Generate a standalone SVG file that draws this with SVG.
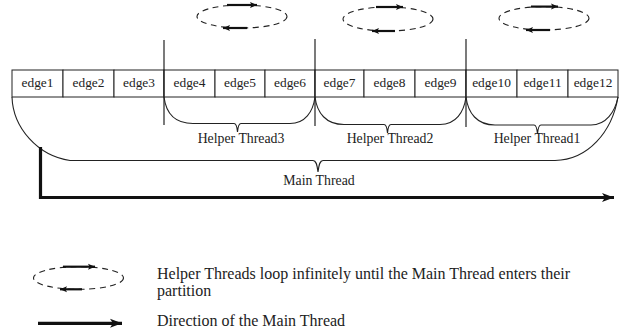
<svg xmlns="http://www.w3.org/2000/svg" width="620" height="331" viewBox="0 0 620 331">
<defs>
<style>
.cell{fill:#fff;stroke:#222;stroke-width:1}
.t{font-family:"Liberation Serif","Times New Roman",serif;fill:#222;text-anchor:middle}
.ct{font-size:13.4px}
.lt{font-size:13.8px}
.leg{font-family:"Liberation Serif","Times New Roman",serif;fill:#222;font-size:16px}
.br{fill:none;stroke:#222;stroke-width:1.1}
.sep{fill:none;stroke:#222;stroke-width:1.2}
.loop{fill:none;stroke:#222;stroke-width:1.1;stroke-dasharray:6 4.5}
.la{fill:none;stroke:#111;stroke-width:2.2}
.main{fill:none;stroke:#111;stroke-width:3.2}
</style>
<marker id="sa" markerUnits="userSpaceOnUse" markerWidth="8" markerHeight="8" refX="7" refY="4" orient="auto"><path d="M0,1 L7,4 L0,7 L1.5,4 z" fill="#111"/></marker>
<marker id="ba" markerUnits="userSpaceOnUse" markerWidth="13" markerHeight="11" refX="12" refY="5.5" orient="auto"><path d="M0,1 L12,5.5 L0,10 L3,5.5 z" fill="#111"/></marker>
</defs>

<g id="edge1"><rect class="cell" x="12" y="70" width="51" height="27"/><text class="t ct" x="37.5" y="87">edge1</text></g>
<g id="edge2"><rect class="cell" x="63" y="70" width="51" height="27"/><text class="t ct" x="88.5" y="87">edge2</text></g>
<g id="edge3"><rect class="cell" x="114" y="70" width="50" height="27"/><text class="t ct" x="139" y="87">edge3</text></g>
<g id="edge4"><rect class="cell" x="164" y="70" width="51" height="27"/><text class="t ct" x="189.5" y="87">edge4</text></g>
<g id="edge5"><rect class="cell" x="215" y="70" width="50" height="27"/><text class="t ct" x="240" y="87">edge5</text></g>
<g id="edge6"><rect class="cell" x="265" y="70" width="50" height="27"/><text class="t ct" x="290" y="87">edge6</text></g>
<g id="edge7"><rect class="cell" x="315" y="70" width="49" height="27"/><text class="t ct" x="339.5" y="87">edge7</text></g>
<g id="edge8"><rect class="cell" x="364" y="70" width="51" height="27"/><text class="t ct" x="389.5" y="87">edge8</text></g>
<g id="edge9"><rect class="cell" x="415" y="70" width="51" height="27"/><text class="t ct" x="440.5" y="87">edge9</text></g>
<g id="edge10"><rect class="cell" x="466" y="70" width="51" height="27"/><text class="t ct" x="491.5" y="87">edge10</text></g>
<g id="edge11"><rect class="cell" x="517" y="70" width="51" height="27"/><text class="t ct" x="542.5" y="87">edge11</text></g>
<g id="edge12"><rect class="cell" x="568" y="70" width="50" height="27"/><text class="t ct" x="593" y="87">edge12</text></g>

<g id="loop3">
<ellipse class="loop" cx="242" cy="16.5" rx="45" ry="11.5"/>
<line class="la" x1="227" y1="5" x2="257" y2="5" marker-end="url(#sa)"/>
<line class="la" x1="247" y1="28" x2="223" y2="28" marker-end="url(#sa)"/>
</g>
<g id="loop2">
<ellipse class="loop" cx="388" cy="19" rx="45" ry="12"/>
<line class="la" x1="376" y1="7" x2="403" y2="7" marker-end="url(#sa)"/>
<line class="la" x1="395" y1="31" x2="372" y2="31" marker-end="url(#sa)"/>
</g>
<g id="loop1">
<ellipse class="loop" cx="544" cy="18.3" rx="45" ry="11.7"/>
<line class="la" x1="531" y1="6.6" x2="558" y2="6.6" marker-end="url(#sa)"/>
<line class="la" x1="550" y1="30" x2="526" y2="30" marker-end="url(#sa)"/>
</g>

<g id="labels">
<text class="t lt" x="241" y="143">Helper Thread3</text>
<text class="t lt" x="390" y="143">Helper Thread2</text>
<text class="t lt" x="537" y="143">Helper Thread1</text>
<text class="t lt" x="319" y="185">Main Thread</text>
</g>

<g id="connectors">
<line class="sep" x1="164" y1="40" x2="164" y2="125"/>
<line class="sep" x1="315" y1="39" x2="315" y2="126"/>
<line class="sep" x1="466" y1="39" x2="466" y2="127"/>
<path class="br" d="M164,97 C166,113 175,123.5 193,123.5 L234,123.5 C236,123.5 237,126 237.5,132 C238,126 239,123.5 241,123.5 L290,123.5 C305,123.5 313,112 315,97"/>
<path class="br" d="M315,97 C317,113 326,124.5 344,124.5 L384,124.5 C386,124.5 387,127 387.5,133 C388,127 389,124.5 391,124.5 L440,124.5 C456,124.5 464,112 466,97"/>
<path class="br" d="M466,97 C468,113 477,125 495,125 L534,125 C536,125 537,128 537.5,134 C538,128 539,125 541,125 L591,125 C606,125 615,112 618,97"/>
<path class="br" d="M12,97 C13,128 38,156 70,160.5 L313,160.5 C316,160.5 317,164 318,172 C319,164 320,160.5 323,160.5 L555,160.5 C588,160 612,132 618,97"/>
<path class="main" d="M40.5,147 L40.5,197.5 L614,197.5" marker-end="url(#ba)"/>
</g>

<g id="legend">
<ellipse class="loop" cx="78.5" cy="278" rx="45" ry="11.3"/>
<line class="la" x1="63" y1="266.7" x2="95" y2="266.7" marker-end="url(#sa)"/>
<line class="la" x1="82" y1="289.3" x2="60" y2="289.3" marker-end="url(#sa)"/>
<path class="main" d="M38,323.3 L122,323.3" marker-end="url(#ba)"/>
<text class="leg" x="157" y="279">Helper Threads loop infinitely until the Main Thread enters their</text>
<text class="leg" x="157" y="296">partition</text>
<text class="leg" x="157" y="326">Direction of the Main Thread</text>
</g>
</svg>
